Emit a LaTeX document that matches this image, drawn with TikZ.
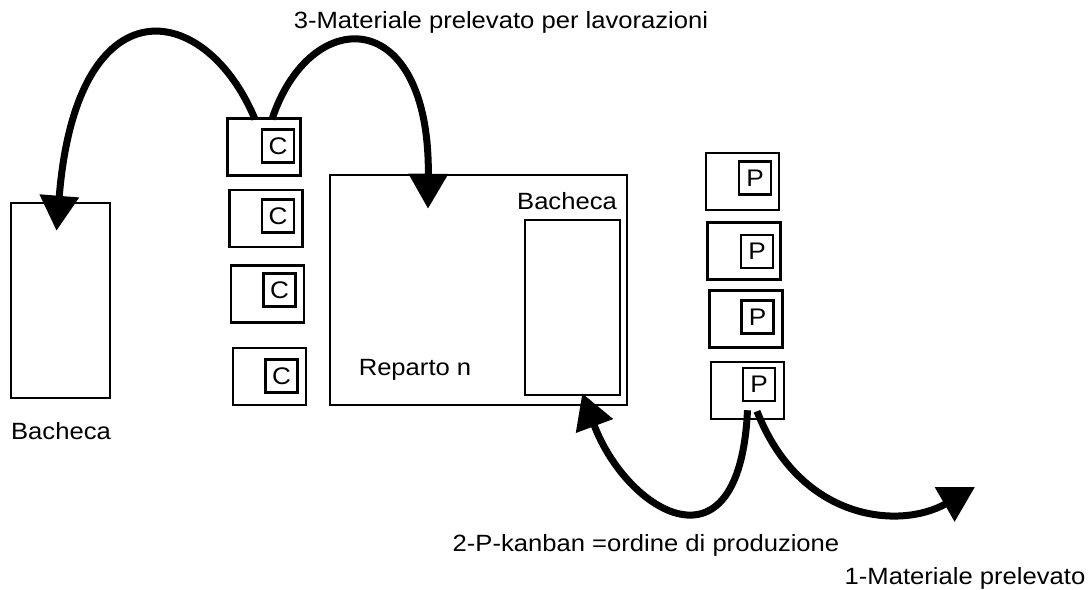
\documentclass[tikz,border=0pt]{standalone}
\usepackage{fontspec}
\setmainfont{Liberation Sans}[FakeStretch=1.09]
\usepackage{tikz}
\usetikzlibrary{arrows,arrows.meta}

\tikzset{
	box/.style={draw, line width=2.5pt, inner sep=0pt},
	card/.style={box, minimum width=73pt, minimum height=57pt},
	tag/.style={box, minimum width=32pt, minimum height=33pt, font=\fontsize{24}{26}\selectfont},
	lbl/.style={font=\fontsize{23.5}{27}\selectfont},
	flow/.style={line width=7pt, -{Triangle[length=35pt,width=38pt]}}
}

\begin{document}
\begin{tikzpicture}[x=1pt,y=-1pt]
	\useasboundingbox (0,0) rectangle (1091,589);
	% bacheche e reparto
	\node[box, minimum width=99pt, minimum height=195pt] (bachL) at (60.5,300.5) {};
	\node[box, minimum width=297pt, minimum height=230pt] (rep) at (478.5,290) {};
	\node[box, minimum width=95pt, minimum height=175pt] (bachR) at (572.5,307.5) {};
	% C-kanban
	\node[card] (c1) at (264,147) {};
	\node[tag] (c1t) at (278,146) {C};
	\node[card] (c2) at (266,218.5) {};
	\node[tag] (c2t) at (278,216) {C};
	\node[card] (c3) at (267.5,294) {};
	\node[tag] (c3t) at (279.5,290) {C};
	\node[card] (c4) at (269.5,376.5) {};
	\node[tag] (c4t) at (281.5,376) {C};
	% P-kanban
	\node[card] (p1) at (742.5,181.5) {};
	\node[tag] (p1t) at (755,178) {P};
	\node[card] (p2) at (744,251) {};
	\node[tag] (p2t) at (757,251.5) {P};
	\node[card] (p3) at (746,319) {};
	\node[tag] (p3t) at (757.5,317) {P};
	\node[card] (p4) at (747.5,390.5) {};
	\node[tag] (p4t) at (759,384.5) {P};
	% testi
	\node[lbl] (t3) at (501,22) {3-Materiale prelevato per lavorazioni};
	\node[lbl] (tbL) at (61,431) {Bacheca};
	\node[lbl] (tbR) at (567,201) {Bacheca};
	\node[lbl] (trep) at (415,370) {Reparto n};
	\node[lbl] (t2) at (646,545) {2-P-kanban =ordine di produzione};
	\node[lbl] (t1) at (965,578) {1-Materiale prelevato};
	\coordinate (out) at (975,487);
	% frecce
	\draw[flow] ([xshift=-9pt,yshift=-2pt]c1.north) .. controls +(-50,-120) and +(20,-250) .. ([xshift=-4pt,yshift=-29pt]bachL.north);
	\draw[flow] ([xshift=8pt,yshift=-2pt]c1.north) .. controls +(38,-115) and +(2,-205) .. ([xshift=-50.5pt,yshift=-35pt]rep.north);
	\draw[flow] ([yshift=10pt]p4.south) .. controls +(-8,171) and +(44,118) .. ([xshift=-39pt,yshift=3pt]bachR.south east);
	\draw[flow] ([xshift=9.5pt,yshift=9pt]p4.south) .. controls +(43,110) and +(-75,43) .. (out);
\end{tikzpicture}
\end{document}
